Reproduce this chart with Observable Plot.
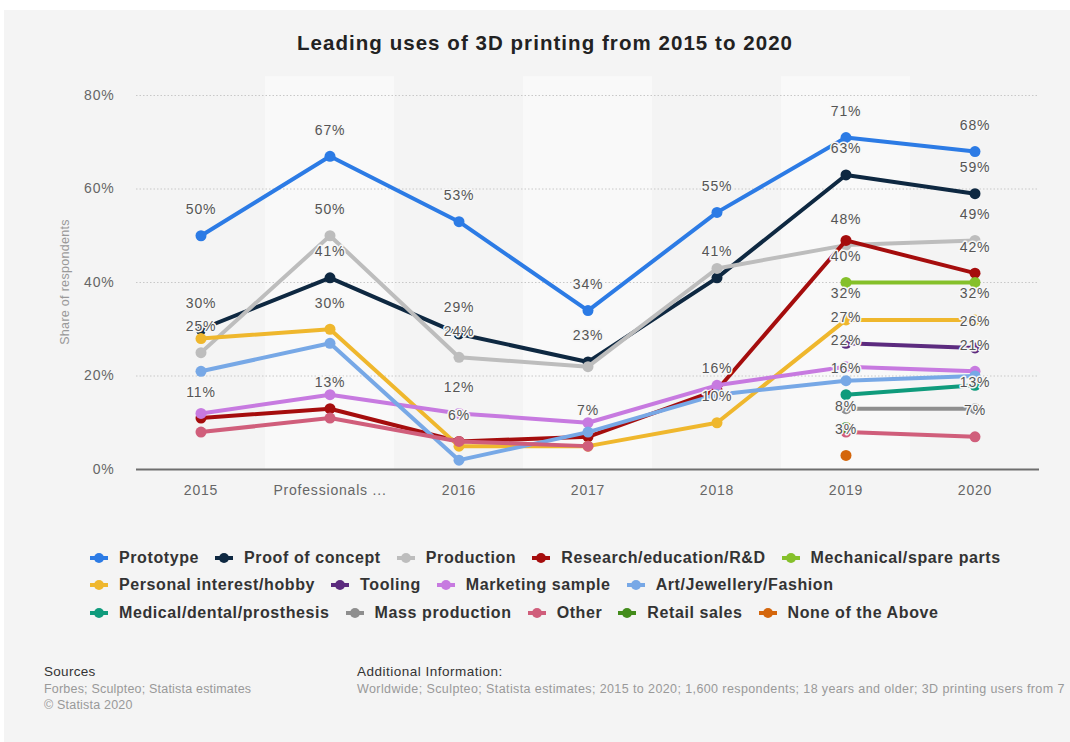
<!DOCTYPE html>
<html><head><meta charset="utf-8">
<script src="https://cdn.jsdelivr.net/npm/d3@7"></script>
<script src="https://cdn.jsdelivr.net/npm/@observablehq/plot@0.6"></script>
<style>
body{margin:0;background:#fff;font-family:"Liberation Sans",Arial,sans-serif;width:1070px;height:742px;overflow:hidden;position:relative}
#bg{position:absolute;left:4px;top:10px;width:1066px;height:732px;background:#f4f4f4}
#title{position:absolute;top:31px;left:10px;width:1070px;text-align:center;font-weight:bold;font-size:20.5px;letter-spacing:1.05px;color:#222}
#chart{position:absolute;left:0;top:60px}
#ylab{position:absolute;left:65px;top:282px;transform:translate(-50%,-50%) rotate(-90deg);font-size:12.5px;letter-spacing:0.3px;color:#999;white-space:nowrap}
#legend{position:absolute;left:90px;top:544px}
.row{display:flex;height:27.5px;align-items:center}
.item{display:flex;align-items:center;margin-right:16px;font-weight:bold;font-size:16px;letter-spacing:0.6px;color:#333;white-space:nowrap}
.item svg{margin-right:11px}
#src{position:absolute;left:44px;top:664px;font-size:13.5px;letter-spacing:0.3px;color:#333}
#src .s{font-size:12.5px;letter-spacing:0.2px;color:#999;margin-top:3px;line-height:15.5px}
#add{position:absolute;left:357px;top:664px;font-size:13.5px;letter-spacing:0.5px;color:#333;white-space:nowrap;width:713px}
#add .s{font-size:12.5px;color:#999;margin-top:3px;letter-spacing:0.4px}
</style>
</head><body>
<div id="bg"></div>
<div id="title">Leading uses of 3D printing from 2015 to 2020</div>
<div id="chart"></div>
<div id="ylab">Share of respondents</div>
<div id="legend"></div>
<div id="src">Sources<div class="s">Forbes; Sculpteo; Statista estimates<br>© Statista 2020</div></div>
<div id="add">Additional Information:<div class="s">Worldwide; Sculpteo; Statista estimates; 2015 to 2020; 1,600 respondents; 18 years and older; 3D printing users from 7</div></div>
<script>
const categories = ["2015","Professionals ...","2016","2017","2018","2019","2020"];
const seriesNames = ["Prototype","Proof of concept","Production","Research/education/R&D","Mechanical/spare parts","Personal interest/hobby","Tooling","Marketing sample","Art/Jewellery/Fashion","Medical/dental/prosthesis","Mass production","Other","Retail sales","None of the Above"];
const seriesColors = ["#2c7be5","#0e2841","#bdbdbd","#a50d0d","#85c02a","#efb72d","#5c2b7f","#c77ae0","#77a8e6","#0f9b7c","#8e8e8e","#d05e7b","#438c1b","#d4660c"];

const prototype      = [50, 67, 53, 34, 55, 71, 68];
const proofOfConcept = [30, 41, 29, 23, 41, 63, 59];
const production     = [25, 50, 24, 22, 43, 48, 49];
const research       = [11, 13, 6, 7, 17, 49, 42];
const mechanical     = [null, null, null, null, null, 40, 40];
const personal       = [28, 30, 5, 5, 10, 32, 32];
const tooling        = [null, null, null, null, null, 27, 26];
const marketing      = [12, 16, 12, 10, 18, 22, 21];
const art            = [21, 27, 2, 8, 16, 19, 20];
const medical        = [null, null, null, null, null, 16, 18];
const massProduction = [null, null, null, null, null, 13, 13];
const other          = [8, 11, 6, 5, null, 8, 7];
const retail         = [null, null, null, null, null, 9, null];
const noneAbove      = [null, null, null, null, null, 3, null];

const allValues = [prototype, proofOfConcept, production, research, mechanical, personal, tooling, marketing, art, medical, massProduction, other, retail, noneAbove];

// which series show a value label at each category
const labelledSeries = [
  ["Prototype","Proof of concept","Production","Research/education/R&D"],
  ["Prototype","Production","Proof of concept","Personal interest/hobby","Research/education/R&D"],
  ["Prototype","Proof of concept","Production","Marketing sample","Research/education/R&D"],
  ["Prototype","Proof of concept","Research/education/R&D"],
  ["Prototype","Proof of concept","Art/Jewellery/Fashion","Personal interest/hobby"],
  ["Prototype","Proof of concept","Production","Mechanical/spare parts","Personal interest/hobby","Tooling","Marketing sample","Medical/dental/prosthesis","Other","None of the Above"],
  ["Prototype","Proof of concept","Production","Research/education/R&D","Personal interest/hobby","Tooling","Marketing sample","Mass production","Other"]
];

const legendRows = [
  ["Prototype","Proof of concept","Production","Research/education/R&D","Mechanical/spare parts"],
  ["Personal interest/hobby","Tooling","Marketing sample","Art/Jewellery/Fashion"],
  ["Medical/dental/prosthesis","Mass production","Other","Retail sales","None of the Above"]
];

const rows = [];
seriesNames.forEach((s, si) => categories.forEach((c, ci) => {
  rows.push({series: s, cat: c, value: allValues[si][ci]});
}));
const labelRows = [];
labelledSeries.forEach((list, ci) => list.forEach(s => {
  const si = seriesNames.indexOf(s);
  labelRows.push({cat: categories[ci], value: allValues[si][ci]});
}));

const marks = [
  Plot.barY(categories.filter((d, i) => i % 2 === 1), {x: d => d, y1: 0, y2: 84, fill: "#f9f9f9"}),
  Plot.ruleY([20, 40, 60, 80], {stroke: "#c8c8c8", strokeDasharray: "1.5,2"}),
  Plot.ruleY([0], {stroke: "#6e6e6e", strokeWidth: 2})
];
seriesNames.forEach((s, si) => {
  const d = rows.filter(r => r.series === s);
  marks.push(Plot.line(d, {x: "cat", y: "value", stroke: seriesColors[si], strokeWidth: 4, defined: r => r.value != null}));
  marks.push(Plot.dot(d.filter(r => r.value != null), {x: "cat", y: "value", r: 5.5, fill: seriesColors[si]}));
});
marks.push(Plot.text(labelRows, {x: "cat", y: "value", text: r => r.value + "%", dy: -26, fontSize: 14, fill: "#555", stroke: "#f7f7f7", strokeWidth: 3}));

const chart = Plot.plot({
  width: 1070, height: 450,
  marginTop: 35, marginBottom: 41, marginLeft: 136, marginRight: 31,
  style: {background: "transparent", fontFamily: "Liberation Sans, Arial, sans-serif", fontSize: "14px", letterSpacing: "0.8px", color: "#666"},
  x: {type: "band", domain: categories, padding: 0, label: null, tickSize: 0, tickPadding: 16},
  y: {domain: [0, 80], ticks: [0, 20, 40, 60, 80], tickFormat: d => d + "%", label: null, tickSize: 0, tickPadding: 22},
  marks
});
document.getElementById("chart").appendChild(chart);

const legend = document.getElementById("legend");
legendRows.forEach(r => {
  const row = document.createElement("div");
  row.className = "row";
  r.forEach(s => {
    const col = seriesColors[seriesNames.indexOf(s)];
    const it = document.createElement("div");
    it.className = "item";
    it.innerHTML = `<svg width="18" height="12"><line x1="0" y1="6" x2="18" y2="6" stroke="${col}" stroke-width="4"/><circle cx="9" cy="6" r="5" fill="${col}"/></svg>${s}`;
    row.appendChild(it);
  });
  legend.appendChild(row);
});
</script>
</body></html>
